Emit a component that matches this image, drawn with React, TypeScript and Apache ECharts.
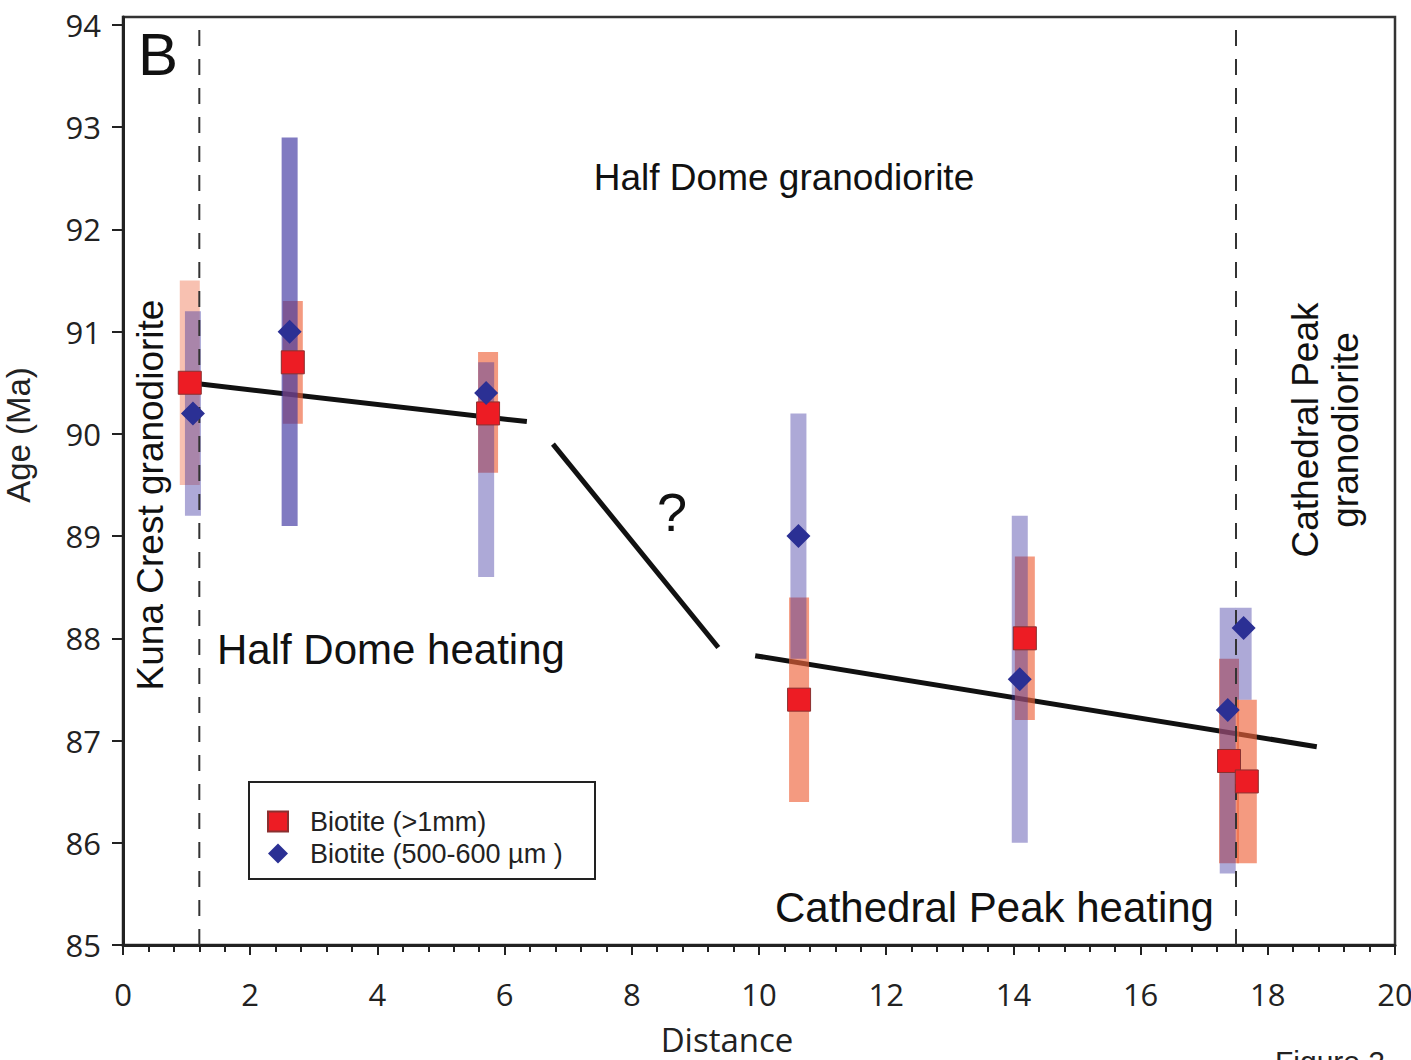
import React, { useEffect, useRef } from "react";
import * as echarts from "echarts";

// ---- data ----
const redName = "Biotite (>1mm)";
const blueName = "Biotite (500-600 µm )";

const redX = [1.05, 2.67, 5.74, 10.63, 14.18, 17.39, 17.67];
const redAge = [90.5, 90.7, 90.2, 87.4, 88.0, 86.8, 86.6];
const redLow = [89.5, 90.1, 89.62, 86.4, 87.2, 85.8, 85.8];
const redHigh = [91.5, 91.3, 90.8, 88.4, 88.8, 87.8, 87.4];

const blueX = [1.1, 2.62, 5.71, 10.62, 14.1, 17.37, 17.62];
const blueAge = [90.2, 91.0, 90.4, 89.0, 87.6, 87.3, 88.1];
const blueLow = [89.2, 89.1, 88.6, 87.8, 86.0, 85.7, 87.4];
const blueHigh = [91.2, 92.9, 90.7, 90.2, 89.2, 88.3, 88.3];

const trendA = [[1.05, 90.5], [6.35, 90.12]];
const trendB = [[6.76, 89.9], [9.36, 87.91]];
const trendC = [[9.94, 87.83], [18.77, 86.94]];

const contactX = [1.2, 17.5];

const xTicks = { min: 0, max: 20, interval: 2 };
const yTickValues = [85, 86, 87, 88, 89, 90, 91, 92, 93, 94];
const Y_MIN = 85;
const Y_MAX = 94.078;

// ---- styles (kept separate from data) ----
const redBarAlpha = [0.4, 0.65, 0.65, 0.65, 0.65, 0.65, 0.65];
const blueBarAlpha = [0.42, 0.65, 0.42, 0.42, 0.42, 0.42, 0.42];
const ORANGE_W = 20;
const BLUE_W = 16;

function barSeries(name: string, xs: number[], lows: number[], highs: number[], rgb: string, alphas: number[], w: number, z: number) {
  return {
    type: "custom",
    name,
    z,
    silent: true,
    data: xs.map((x, i) => [x, lows[i], highs[i]]),
    encode: { x: 0, y: [1, 2] },
    renderItem: (params: any, api: any) => {
      const x = api.value(0);
      const top = api.coord([x, api.value(2)]);
      const bot = api.coord([x, api.value(1)]);
      return {
        type: "rect",
        shape: { x: top[0] - w / 2, y: top[1], width: w, height: bot[1] - top[1] },
        style: { fill: `rgba(${rgb},${alphas[params.dataIndex]})` },
      };
    },
  };
}

function lineSeries(data: number[][], dashed: boolean, z: number) {
  return {
    type: "line",
    data,
    z,
    silent: true,
    symbol: "none",
    lineStyle: dashed
      ? { color: "#333", width: 2, type: [16, 13] }
      : { color: "#111", width: 5 },
  };
}

export default function App() {
  const ref = useRef<HTMLDivElement>(null);
  useEffect(() => {
    if (!ref.current) return;
    const chart = echarts.init(ref.current, null, { renderer: "svg" });
    const sans = "Liberation Sans, Arial, sans-serif";
    const axisFont = "Open Sans, sans-serif";
    const option: any = {
      animation: false,
      backgroundColor: "#fff",
      grid: {
        left: 123,
        right: 16,
        top: 17,
        bottom: 115,
        containLabel: false,
        outerBoundsMode: "none",
        show: true,
        borderColor: "#333",
        borderWidth: 2.5,
      },
      xAxis: {
        type: "value",
        min: xTicks.min,
        max: xTicks.max,
        interval: xTicks.interval,
        axisLine: { show: true, onZero: false, lineStyle: { color: "#222", width: 3 } },
        axisTick: { show: true, length: 10, lineStyle: { color: "#222", width: 2 } },
        minorTick: { show: true, splitNumber: 5, length: 7, lineStyle: { color: "#222", width: 2 } },
        splitLine: { show: false },
        axisLabel: { fontSize: 31, fontFamily: axisFont, color: "#222", margin: 33 },
      },
      yAxis: {
        type: "value",
        min: Y_MIN,
        max: Y_MAX,
        axisLine: { show: true, lineStyle: { color: "#222", width: 3 } },
        axisTick: { show: true, length: 11, customValues: yTickValues, lineStyle: { color: "#222", width: 2 } },
        splitLine: { show: false },
        axisLabel: { fontSize: 31, fontFamily: axisFont, color: "#222", margin: 22, customValues: yTickValues },
      },
      legend: {
        data: [
          { name: redName, icon: "rect" },
          { name: blueName, icon: "diamond" },
        ],
        orient: "vertical",
        left: 267,
        top: 808,
        itemWidth: 20,
        itemHeight: 20,
        itemGap: 5,
        padding: 0,
        selectedMode: false,
        textStyle: { fontSize: 27, fontFamily: sans, color: "#222", padding: [0, 0, 0, 17] },
      },
      graphic: [
        { type: "rect", z: 50, shape: { x: 249, y: 782, width: 346, height: 97 }, style: { fill: "none", stroke: "#222", lineWidth: 2 } },
        { type: "text", z: 50, x: 138, y: 54, style: { text: "B", fontSize: 60, fontFamily: sans, fill: "#111", textVerticalAlign: "middle" } },
        { type: "text", z: 50, x: 784, y: 177, style: { text: "Half Dome granodiorite", fontSize: 37, fontFamily: sans, fill: "#111", textAlign: "center", textVerticalAlign: "middle" } },
        { type: "text", z: 50, x: 217, y: 649, style: { text: "Half Dome heating", fontSize: 42, fontFamily: sans, fill: "#111", textVerticalAlign: "middle" } },
        { type: "text", z: 50, x: 775, y: 907, style: { text: "Cathedral Peak heating", fontSize: 42, fontFamily: sans, fill: "#111", textVerticalAlign: "middle" } },
        { type: "text", z: 50, x: 672, y: 512, style: { text: "?", fontSize: 54, fontFamily: sans, fill: "#111", textAlign: "center", textVerticalAlign: "middle" } },
        { type: "text", z: 50, x: 150, y: 495, rotation: Math.PI / 2, style: { text: "Kuna Crest granodiorite", fontSize: 37, fontFamily: sans, fill: "#111", textAlign: "center", textVerticalAlign: "middle" } },
        { type: "text", z: 50, x: 1325, y: 430, rotation: Math.PI / 2, style: { text: "Cathedral Peak\ngranodiorite", fontSize: 37, lineHeight: 40, fontFamily: sans, fill: "#111", textAlign: "center", textVerticalAlign: "middle" } },
        { type: "text", z: 50, x: 18, y: 435, rotation: Math.PI / 2, style: { text: "Age (Ma)", fontSize: 33, fontFamily: sans, fill: "#222", textAlign: "center", textVerticalAlign: "middle" } },
        { type: "text", z: 50, x: 727, y: 1039, style: { text: "Distance", fontSize: 33, fontFamily: axisFont, fill: "#222", textAlign: "center", textVerticalAlign: "middle" } },
        { type: "text", z: 50, x: 1275, y: 1046, style: { text: "Figure 2", fontSize: 30, fontFamily: sans, fill: "#222" } },
      ],
      series: [
        lineSeries(trendA, false, 1),
        lineSeries(trendB, false, 1),
        lineSeries(trendC, false, 1),
        barSeries("orangeBars", redX, redLow, redHigh, "238,100,60", redBarAlpha, ORANGE_W, 2),
        barSeries("blueBars", blueX, blueLow, blueHigh, "60,50,160", blueBarAlpha, BLUE_W, 3),
        ...contactX.map((x) => lineSeries([[x, Y_MIN], [x, Y_MAX]], true, 4)),
        {
          type: "scatter",
          name: redName,
          z: 5,
          symbol: "rect",
          symbolSize: 23,
          itemStyle: { color: "#ED1C24", borderColor: "#8a3030", borderWidth: 1, opacity: 1 },
          data: redX.map((x, i) => [x, redAge[i]]),
        },
        {
          type: "scatter",
          name: blueName,
          z: 6,
          symbol: "diamond",
          symbolSize: 24,
          itemStyle: { color: "#2B3094", opacity: 1 },
          data: blueX.map((x, i) => [x, blueAge[i]]),
        },
      ],
    };
    chart.setOption(option);
    return () => chart.dispose();
  }, []);
  return (
    <div
      ref={ref}
      style={{ position: "absolute", left: 0, top: 0, width: 1411, height: 1060, background: "#fff" }}
    />
  );
}
